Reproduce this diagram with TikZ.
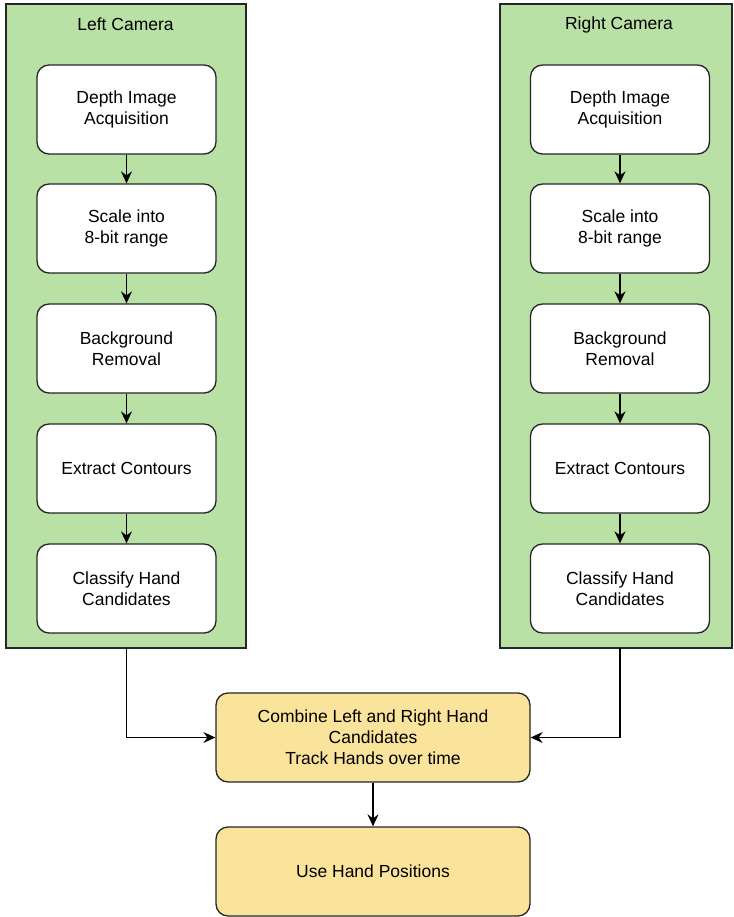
\documentclass[tikz,border=0pt]{standalone}
\usepackage{fontspec}
\setmainfont{Liberation Sans}
\usetikzlibrary{arrows.meta}
\definecolor{camgreen}{RGB}{185,224,165}
\definecolor{handyellow}{RGB}{250,227,155}
\begin{document}
\begin{tikzpicture}[x=1pt,y=-1pt,
  line width=1.3pt,
  camera/.style={draw=black!85,fill=camgreen},
  stage/.style={draw=black!85,fill=white,rounded corners=12pt,minimum width=179pt,minimum height=89pt,align=center,inner sep=0pt},
  merge/.style={stage,fill=handyellow,minimum width=314pt},
  flow/.style={-{Stealth[length=12pt,width=11pt,inset=4pt]}},
  font=\fontsize{17.5}{21}\selectfont]
\useasboundingbox (0,0) rectangle (733,917);
% camera containers
\draw[camera] (6,4) rectangle (246,648);
\draw[camera] (500,4) rectangle (732,648);
\node (ltitle) at (125.5,24.5) {Left Camera};
\node (rtitle) at (619,24.5) {Right Camera};
% left pipeline
\node[stage] (l1) at (126.5,109.5) {Depth Image\\Acquisition};
\node[stage] (l2) at (126.5,228.5) {Scale into\\8-bit range};
\node[stage] (l3) at (126.5,348.5) {Background\\Removal};
\node[stage] (l4) at (126.5,468.5) {Extract Contours};
\node[stage] (l5) at (126.5,588.5) {Classify Hand\\Candidates};
% right pipeline
\node[stage] (r1) at (620,109.5) {Depth Image\\Acquisition};
\node[stage] (r2) at (620,228.5) {Scale into\\8-bit range};
\node[stage] (r3) at (620,348.5) {Background\\Removal};
\node[stage] (r4) at (620,468.5) {Extract Contours};
\node[stage] (r5) at (620,588.5) {Classify Hand\\Candidates};
% combined stages
\node[merge] (comb) at (373,737.5) {Combine Left and Right Hand\\Candidates\\Track Hands over time};
\node[merge] (use) at (373,871.5) {Use Hand Positions};
\coordinate (lout) at (126.5,648);
\coordinate (rout) at (620,648);
\foreach \a/\b in {1/2,2/3,3/4,4/5} {
  \draw[flow] (l\a) -- (l\b);
  \draw[flow] (r\a) -- (r\b);
}
\draw[flow] (lout) |- (comb);
\draw[flow] (rout) |- (comb);
\draw[flow] (comb) -- (use);
\end{tikzpicture}
\end{document}
